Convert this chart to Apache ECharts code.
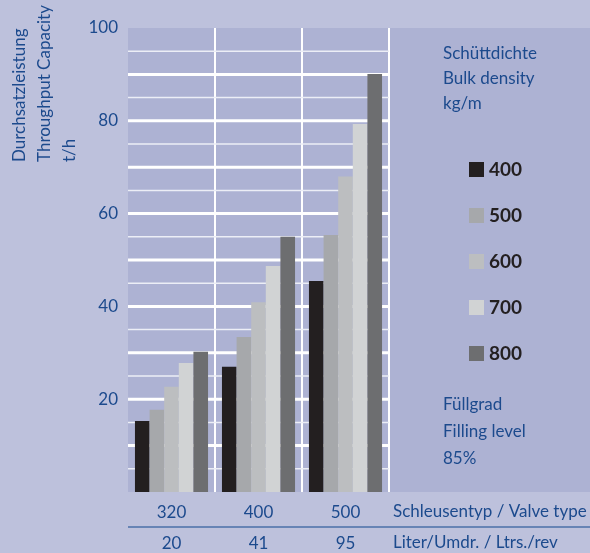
<!DOCTYPE html>
<html><head><meta charset="utf-8">
<script src="https://cdn.jsdelivr.net/npm/echarts@6/dist/echarts.min.js"></script>
<style>html,body{margin:0;padding:0;background:#bdc1dc}#c{width:590px;height:553px}</style>
</head><body><div id="c"></div>
<script>
const valveTypes = ['320', '400', '500'];
const litersPerRev = ['20', '41', '95'];
const densities = ['400', '500', '600', '700', '800'];
const d400 = [15.3, 27.0, 45.5];
const d500 = [17.7, 33.4, 55.4];
const d600 = [22.7, 40.9, 68.0];
const d700 = [27.8, 48.7, 79.3];
const d800 = [30.2, 55.0, 90.1];
const majorGrid = [10, 20, 30, 40, 50, 60, 70, 80, 90];
const minorGrid = [5, 15, 25, 35, 45, 55, 65, 75, 85, 95];
const yLabelTicks = [20, 40, 60, 80, 100];
const barColors = ['#231f20', '#a6a8ab', '#bcbec0', '#d1d3d4', '#6d6e70'];
const yNameLines = ['Durchsatzleistung', 'Throughput Capacity', 't/h'];
const densityTitle = ['Schüttdichte', 'Bulk density', 'kg/m'];
const fillTitle = ['Füllgrad', 'Filling level', '85%'];
const xAxisNames = ['Schleusentyp / Valve type', 'Liter/Umdr. / Ltrs./rev'];

const BLUE = '#1c4a8d';
const OUTER = '#bdc1dc';
const INNER = '#adb2d3';
const FONT = 'Lato, "Open Sans", sans-serif';
const GRID = {left: 128, right: 201, top: 28, bottom: 61};
const W = 590, H = 553;
const values = [d400, d500, d600, d700, d800];

const chart = echarts.init(document.getElementById('c'), null, {renderer: 'canvas'});

const graphics = [
  {type: 'rect', z: -10, silent: true, shape: {x: 0, y: 0, width: W, height: GRID.top}, style: {fill: OUTER}},
  {type: 'rect', z: -10, silent: true, shape: {x: 0, y: GRID.top, width: GRID.left, height: H - GRID.top}, style: {fill: OUTER}},
  {type: 'rect', z: -10, silent: true, shape: {x: GRID.left, y: H - GRID.bottom, width: W - GRID.left, height: GRID.bottom}, style: {fill: OUTER}},
  {type: 'line', shape: {x1: GRID.left, y1: 527, x2: W, y2: 527}, style: {stroke: '#4b6fa9', lineWidth: 1.5}}
];
const yNameX = [20, 45, 70];
yNameLines.forEach((t, i) => graphics.push({
  type: 'text', x: yNameX[i], y: 162, rotation: Math.PI / 2,
  style: {text: t, fill: BLUE, font: '17px ' + FONT, align: 'left', verticalAlign: 'middle'}
}));
densityTitle.forEach((t, i) => graphics.push({
  type: 'text', x: 443, y: 54 + i * 25,
  style: {text: t, fill: BLUE, font: '17px ' + FONT, align: 'left', verticalAlign: 'middle'}
}));
fillTitle.forEach((t, i) => graphics.push({
  type: 'text', x: 443, y: 405 + i * 27,
  style: {text: t, fill: BLUE, font: '17px ' + FONT, align: 'left', verticalAlign: 'middle'}
}));
xAxisNames.forEach((t, i) => graphics.push({
  type: 'text', x: 393, y: 512 + i * 31,
  style: {text: t, fill: BLUE, font: '17px ' + FONT, align: 'left', verticalAlign: 'middle'}
}));

// grid line rows: [category index (unused), value, line width]
const gridRows = minorGrid.map(v => [0, v, 1.5]).concat(majorGrid.map(v => [0, v, 3]));

chart.setOption({
  backgroundColor: INNER,
  animation: false,
  textStyle: {fontFamily: FONT},
  grid: Object.assign({show: false}, GRID),
  legend: {
    orient: 'vertical', left: 464, top: 155, icon: 'rect',
    itemWidth: 15, itemHeight: 15, itemGap: 27,
    textStyle: {fontSize: 19, fontWeight: 'bold', color: '#231f20'},
    data: densities
  },
  xAxis: [
    {
      type: 'category', data: valveTypes, position: 'bottom',
      axisLine: {show: false}, axisTick: {show: false},
      axisLabel: {fontSize: 17, color: BLUE, margin: 12},
      splitLine: {show: true, interval: 0, showMinLine: false, showMaxLine: true, lineStyle: {color: '#ffffff', width: 2}}
    },
    {
      type: 'category', data: litersPerRev, position: 'bottom', offset: 31,
      axisLine: {show: false}, axisTick: {show: false},
      axisLabel: {fontSize: 17, color: BLUE, margin: 12},
      splitLine: {show: false}
    }
  ],
  yAxis: {
    type: 'value', min: 0, max: 100, interval: 10,
    axisLine: {show: false}, axisTick: {show: false},
    axisLabel: {fontSize: 17, color: BLUE, margin: 10, formatter: v => yLabelTicks.includes(Number(v)) ? String(v) : ''},
    splitLine: {show: false}
  },
  series: [{
    name: 'gridlines', type: 'custom', xAxisIndex: 0, yAxisIndex: 0, z: 5, silent: true,
    data: gridRows,
    renderItem: (params, api) => {
      const cs = params.coordSys;
      const y = api.coord([0, api.value(1)])[1];
      const w = api.value(2);
      return {
        type: 'line',
        shape: {x1: cs.x, y1: y, x2: cs.x + cs.width, y2: y},
        style: {stroke: w > 2 ? '#ffffff' : '#eceef6', lineWidth: w}
      };
    }
  }].concat(densities.map((name, i) => ({
    name, type: 'bar', xAxisIndex: 0, data: values[i], z: 6,
    barGap: 0, barCategoryGap: '16%',
    itemStyle: {color: barColors[i]}
  }))),
  graphic: {elements: graphics}
});
</script></body></html>
